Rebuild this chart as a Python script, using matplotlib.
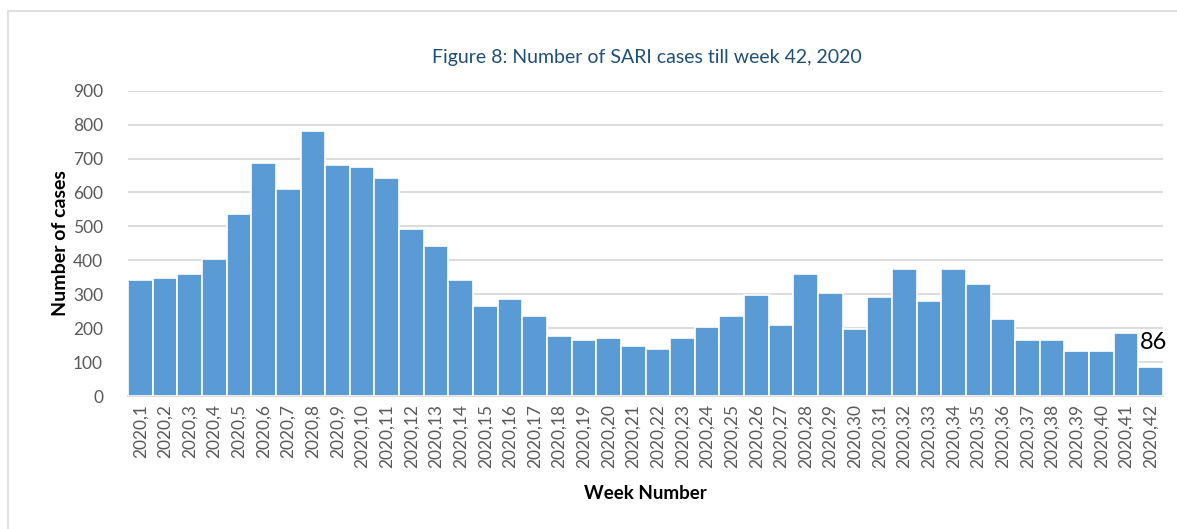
import numpy as np
import matplotlib.pyplot as plt
from matplotlib.patches import Rectangle

plt.rcParams['font.family'] = ['Lato', 'DejaVu Sans']

# Wochen 1..42 in 2020
weeks = ['2020,%d' % w for w in range(1, 43)]
cases = [341, 347, 360, 404, 536, 687, 611, 781, 680, 674,
         643, 491, 442, 341, 265, 285, 235, 178, 165, 171,
         146, 140, 171, 202, 235, 298, 209, 361, 304, 197,
         291, 373, 279, 373, 329, 228, 165, 165, 134, 134,
         185, 86]
last_label = '86'

fig = plt.figure(figsize=(11.77, 5.29), dpi=100)
ax = fig.add_axes([0.1088, 0.2514, 0.8793, 0.5771])

# Rahmen um das Diagramm
fig.patches.append(Rectangle((8 / 1177, -0.05), 1.1, 1 - 11 / 529 + 0.05,
                             transform=fig.transFigure, fill=False,
                             edgecolor='#d9d9d9', linewidth=1.2))

x = np.arange(len(weeks))
ax.bar(x, cases, width=1.0, color='#5b9bd5', edgecolor='#ffffff', linewidth=1.2, zorder=3)

ax.set_xlim(-0.5, len(weeks) - 0.5)
ax.set_ylim(0, 900)
ax.set_yticks(range(0, 901, 100))
ax.grid(axis='y', color='#d9d9d9', linewidth=1.3, zorder=0)
for s in ['top', 'right', 'left']:
    ax.spines[s].set_visible(False)
ax.spines['bottom'].set_color('#d9d9d9')
ax.spines['bottom'].set_linewidth(1.3)
ax.tick_params(length=0)
ax.tick_params(axis='y', labelsize=12.5, labelcolor='#595959', pad=18)
ax.tick_params(axis='x', pad=6)
ax.set_xticks(x)
ax.set_xticklabels(weeks, rotation=90, fontsize=12.5, color='#595959')

ax.text(x[-1] + 0.1, cases[-1] + 40, last_label, ha='center', va='bottom', fontsize=17, color='black')

ax.set_xlabel('Week Number', fontsize=13.5, fontweight='bold', labelpad=12)
ax.set_ylabel('Number of cases', fontsize=14, fontweight='bold', labelpad=3)
fig.text(0.55, 1 - 58 / 529, 'Figure 8: Number of SARI cases till week 42, 2020',
         ha='center', va='center', fontsize=14, color='#1f4e79')

plt.savefig('out.png', dpi=100)
